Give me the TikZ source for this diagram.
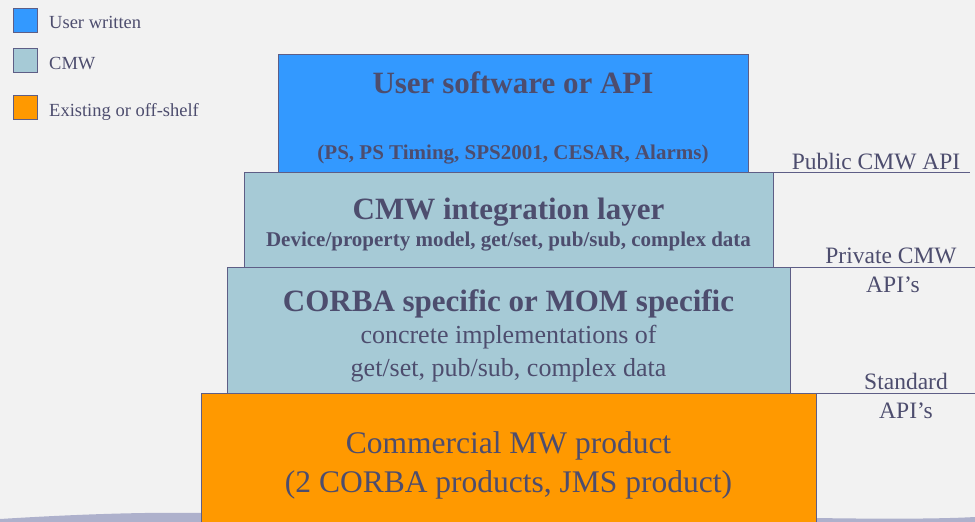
\documentclass[tikz,border=0pt]{standalone}
\usepackage{fontspec}
\setmainfont{Liberation Serif}
\usetikzlibrary{positioning}

\definecolor{userblue}{HTML}{3399FF}
\definecolor{cmwblue}{HTML}{A6CAD6}
\definecolor{offorange}{HTML}{FF9900}
\definecolor{slidetext}{HTML}{4D4D6E}
\definecolor{slideline}{HTML}{5E5E86}
\definecolor{slidebg}{HTML}{F2F2F2}
\definecolor{swoosh}{HTML}{AEB1CC}

\begin{document}
\begin{tikzpicture}[x=1pt, y=-1pt, node distance=0pt,
    layer/.style={draw=slideline, line width=0.9pt, rectangle, inner sep=0pt, outer sep=0pt},
    keybox/.style={draw=slideline, line width=0.8pt, rectangle, inner sep=0pt, minimum size=24pt},
    keytext/.style={text=slidetext, font=\fontsize{18.5}{22}\selectfont, anchor=base west, inner sep=0pt},
    apitext/.style={text=slidetext, font=\fontsize{23.5}{28}\selectfont, anchor=base, inner sep=0pt},
    headtext/.style={text=slidetext, font=\bfseries\fontsize{31}{36}\selectfont, anchor=base, inner sep=0pt},
    subtext/.style={text=slidetext, font=\bfseries\fontsize{21}{25}\selectfont, anchor=base, inner sep=0pt},
    bodytext/.style={text=slidetext, font=\fontsize{26}{33}\selectfont, anchor=base, inner sep=0pt},
    bigtext/.style={text=slidetext, font=\fontsize{31.5}{39}\selectfont, anchor=base, inner sep=0pt}]
    % Background
    \fill[slidebg] (0,0) rectangle (975,522);
    \useasboundingbox (0,0) rectangle (975,522);
    \fill[swoosh] (0,522) -- (0,519) .. controls (80,514) and (150,512) .. (202,513) -- (202,522) -- cycle;
    \fill[swoosh] (815,522) -- (815,518) .. controls (880,519) and (940,519) .. (975,517) -- (975,522) -- cycle;

    % Legend
    \node[keybox, fill=userblue, anchor=north west] (keyuser) at (13,8) {};
    \node[keybox, fill=cmwblue, anchor=north west] (keycmw) at (13,48) {};
    \node[keybox, fill=offorange, anchor=north west] (keyoff) at (13,95) {};
    \node[keytext] (keyusertxt) at (49,28) {User written};
    \node[keytext] (keycmwtxt) at (49,69) {CMW};
    \node[keytext] (keyofftxt) at (49,116) {Existing or off-shelf};

    % Layers
    \node[layer, fill=userblue, minimum width=470pt, minimum height=118pt, anchor=north] (user) at (513,54) {};
    \node[layer, fill=cmwblue, minimum width=529pt, minimum height=95pt, below=of user, xshift=-4.5pt] (integ) {};
    \node[layer, fill=cmwblue, minimum width=563pt, minimum height=126pt, below=of integ] (corba) {};
    \node[layer, fill=offorange, minimum width=615pt, minimum height=140pt, below=of corba] (product) {};

    % Layer texts
    \node[headtext] (usertitle) at (513,93) {User software or API};
    \node[subtext] (usersub) at (513,159) {(PS, PS Timing, SPS2001, CESAR, Alarms)};
    \node[headtext] (integtitle) at (508.5,219) {CMW integration layer};
    \node[subtext] (integsub) at (508.5,246) {Device/property model, get/set, pub/sub, complex data};
    \node[headtext] (corbatitle) at (508.5,311) {CORBA specific or MOM specific};
    \node[bodytext] (corbaline1) at (508.5,343) {concrete implementations of};
    \node[bodytext] (corbaline2) at (508.5,376) {get/set, pub/sub, complex data};
    \node[bigtext] (productline1) at (508.5,453) {Commercial MW product};
    \node[bigtext] (productline2) at (508.5,492) {(2 CORBA products, JMS product)};

    % API borders
    \coordinate (publicend) at (970,172);
    \coordinate (privateend) at (975,267);
    \coordinate (standardend) at (975,393);
    \draw[slideline, line width=0.9pt] (user.south east) -- (publicend);
    \draw[slideline, line width=0.9pt] (integ.south east) -- (privateend);
    \draw[slideline, line width=0.9pt] (corba.south east) -- (standardend);
    \node[apitext] (publicapi) at (876,169) {Public CMW API};
    \node[apitext] (privateapi) at (891,263) {Private CMW};
    \node[apitext] (privateapis) at (893,292) {API’s};
    \node[apitext] (standardapi) at (906,389) {Standard};
    \node[apitext] (standardapis) at (906,418) {API’s};
\end{tikzpicture}
\end{document}
